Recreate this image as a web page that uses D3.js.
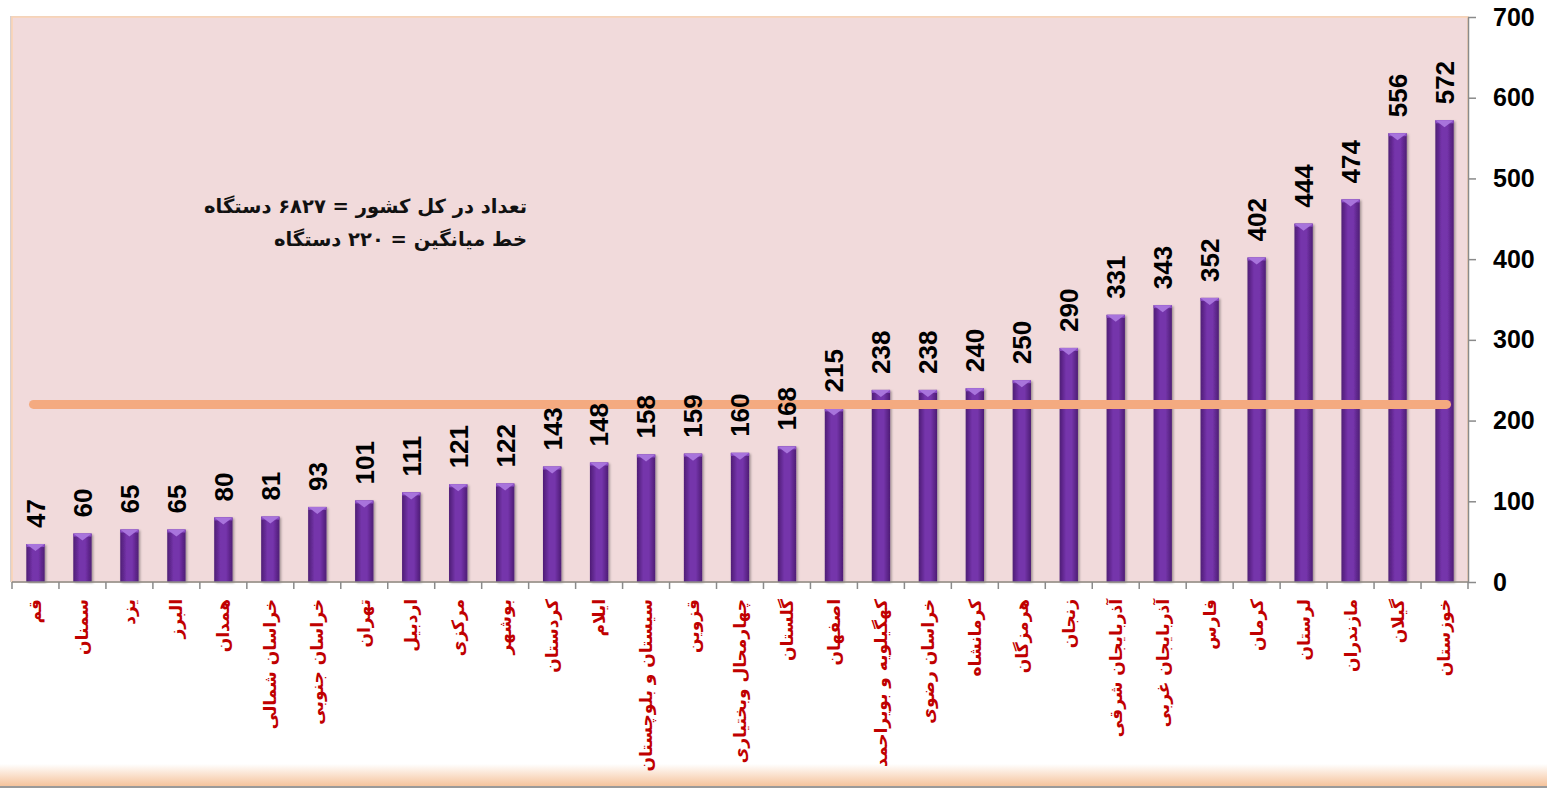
<!DOCTYPE html>
<html lang="fa">
<head>
  <meta charset="UTF-8">
  <title>تعداد دستگاه به تفکیک استان</title>
  <style>
    body { margin: 0; background: #fff; }
    svg { display: block; }
    .value {
      font-family: "Liberation Sans", Arial, sans-serif;
      font-weight: bold;
      font-size: 26px;
      fill: #000;
    }
    .cat {
      font-family: "DejaVu Sans", sans-serif;
      font-weight: bold;
      font-size: 17px;
      fill: #c00000;
    }
    .y-axis text {
      font-family: "Liberation Sans", Arial, sans-serif;
      font-weight: bold;
      font-size: 25px;
      fill: #000;
    }
    .y-axis path, .y-axis line { stroke: #8a8a8a; stroke-width: 1.5; }
    .note {
      font-family: "DejaVu Sans", sans-serif;
      font-weight: bold;
      font-size: 19.5px;
      fill: #111;
    }
  </style>
  <script src="https://d3js.org/d3.v7.min.js"></script>
</head>
<body>
  <svg id="chart" width="1547" height="788"></svg>
  <script>
    const provinces = [
      "قم", "سمنان", "یزد", "البرز", "همدان", "خراسان شمالی", "خراسان جنوبی",
      "تهران", "اردبیل", "مرکزی", "بوشهر", "کردستان", "ایلام", "سیستان و بلوچستان",
      "قزوین", "چهارمحال وبختیاری", "گلستان", "اصفهان", "کهگیلویه و بویراحمد",
      "خراسان رضوی", "کرمانشاه", "هرمزگان", "زنجان", "آذربایجان شرقی",
      "آذربایجان غربی", "فارس", "کرمان", "لرستان", "مازندران", "گیلان", "خوزستان"
    ];
    const counts = [
      47, 60, 65, 65, 80, 81, 93, 101, 111, 121, 122, 143, 148, 158, 159, 160,
      168, 215, 238, 238, 240, 250, 290, 331, 343, 352, 402, 444, 474, 556, 572
    ];
    const averageValue = 220;
    const yTicks = [0, 100, 200, 300, 400, 500, 600, 700];
    const notes = ["تعداد در کل کشور = ۶۸۲۷ دستگاه", "خط میانگین = ۲۲۰ دستگاه"];

    const svg = d3.select("#chart");
    const plotL = 12, plotR = 1468, plotT = 17, plotB = 582;

    const x = d3.scaleBand().domain(provinces).range([plotL, plotR]).padding(0);
    const y = d3.scaleLinear().domain([0, 700]).range([plotB, plotT]);
    const barW = x.bandwidth() * 0.39;

    const defs = svg.append("defs");
    const grad = defs.append("linearGradient").attr("id", "barGrad")
      .attr("x1", "0%").attr("x2", "100%").attr("y1", "0%").attr("y2", "0%");
    grad.append("stop").attr("offset", "0%").attr("stop-color", "#4e1d75");
    grad.append("stop").attr("offset", "35%").attr("stop-color", "#7534ab");
    grad.append("stop").attr("offset", "65%").attr("stop-color", "#7534ab");
    grad.append("stop").attr("offset", "100%").attr("stop-color", "#4e1d75");

    const bgrad = defs.append("linearGradient").attr("id", "footGrad")
      .attr("x1", "0").attr("x2", "0").attr("y1", "0").attr("y2", "1");
    bgrad.append("stop").attr("offset", "0%").attr("stop-color", "#ffffff");
    bgrad.append("stop").attr("offset", "100%").attr("stop-color", "#f5c39c");

    const shadow = defs.append("filter").attr("id", "shadow")
      .attr("x", "-30%").attr("y", "-5%").attr("width", "160%").attr("height", "110%");
    shadow.append("feDropShadow").attr("dx", 1.5).attr("dy", 1).attr("stdDeviation", 1.2)
      .attr("flood-color", "#000").attr("flood-opacity", 0.35);

    // plot background
    svg.append("rect").attr("x", plotL - 2).attr("y", plotT - 1)
      .attr("width", plotR - plotL + 2).attr("height", plotB - plotT + 1)
      .attr("fill", "#d8d0d0");
    svg.append("rect").attr("x", plotL).attr("y", plotT)
      .attr("width", plotR - plotL).attr("height", plotB - plotT)
      .attr("fill", "#f1dadb").attr("stroke", "#fbd3b2").attr("stroke-width", 1.5);

    // footer strip
    svg.append("rect").attr("x", 0).attr("y", 764).attr("width", 1547).attr("height", 22)
      .attr("fill", "url(#footGrad)");
    svg.append("rect").attr("x", 0).attr("y", 786).attr("width", 1547).attr("height", 2)
      .attr("fill", "#9a9a9a");

    // bars
    const bars = svg.append("g").selectAll("g").data(provinces).join("g")
      .attr("transform", d => `translate(${x(d) + x.bandwidth() / 2},0)`);

    bars.append("rect")
      .attr("x", -barW / 2).attr("width", barW)
      .attr("y", (d, i) => y(counts[i]))
      .attr("height", (d, i) => y(0) - y(counts[i]))
      .attr("fill", "url(#barGrad)")
      .attr("filter", "url(#shadow)");

    bars.append("rect")
      .attr("x", -barW / 2).attr("width", barW)
      .attr("y", (d, i) => y(counts[i]))
      .attr("height", 3)
      .attr("fill", "#8a4cc4");

    bars.append("path")
      .attr("d", (d, i) => {
        const t = y(counts[i]);
        return `M${-barW / 2},${t}L${barW / 2},${t}L0,${t + 7}Z`;
      })
      .attr("fill", "#a874dc");

    // average line (under the value labels)
    svg.append("line")
      .attr("x1", x(provinces[0]) + x.bandwidth() / 2 - 2)
      .attr("x2", x(provinces[provinces.length - 1]) + x.bandwidth() / 2 + 2)
      .attr("y1", y(averageValue)).attr("y2", y(averageValue))
      .attr("stroke", "#f4aa80").attr("stroke-width", 9).attr("stroke-linecap", "round");

    // value labels
    svg.append("g").selectAll("text").data(provinces).join("text")
      .attr("class", "value")
      .attr("transform", (d, i) => `translate(${x(d) + x.bandwidth() / 2},${y(counts[i]) - 16}) rotate(-90)`)
      .attr("dy", "0.36em")
      .text((d, i) => counts[i]);

    // x axis
    svg.append("line").attr("x1", plotL).attr("x2", plotR)
      .attr("y1", plotB).attr("y2", plotB)
      .attr("stroke", "#8a8a8a").attr("stroke-width", 1.5);
    const edges = provinces.map(p => x(p)).concat([x(provinces[provinces.length - 1]) + x.bandwidth()]);
    svg.append("g").selectAll("line").data(edges).join("line")
      .attr("x1", d => d).attr("x2", d => d)
      .attr("y1", plotB).attr("y2", plotB + 7)
      .attr("stroke", "#8a8a8a").attr("stroke-width", 1.5);

    // category labels
    svg.append("g").selectAll("text").data(provinces).join("text")
      .attr("class", "cat")
      .attr("text-anchor", "end")
      .attr("transform", d => `translate(${x(d) + x.bandwidth() / 2},599) rotate(-90)`)
      .attr("dy", "0.35em")
      .text(d => d);

    // y axis on the right
    svg.append("g").attr("class", "y-axis")
      .attr("transform", `translate(${plotR},0)`)
      .call(d3.axisRight(y).tickValues(yTicks).tickSize(8).tickPadding(17).tickSizeOuter(0));

    // notes
    svg.append("g").selectAll("text").data(notes).join("text")
      .attr("class", "note")
      .attr("text-anchor", "end")
      .attr("x", 527)
      .attr("y", (d, i) => 213 + i * 33)
      .text(d => d);
  </script>
</body>
</html>
